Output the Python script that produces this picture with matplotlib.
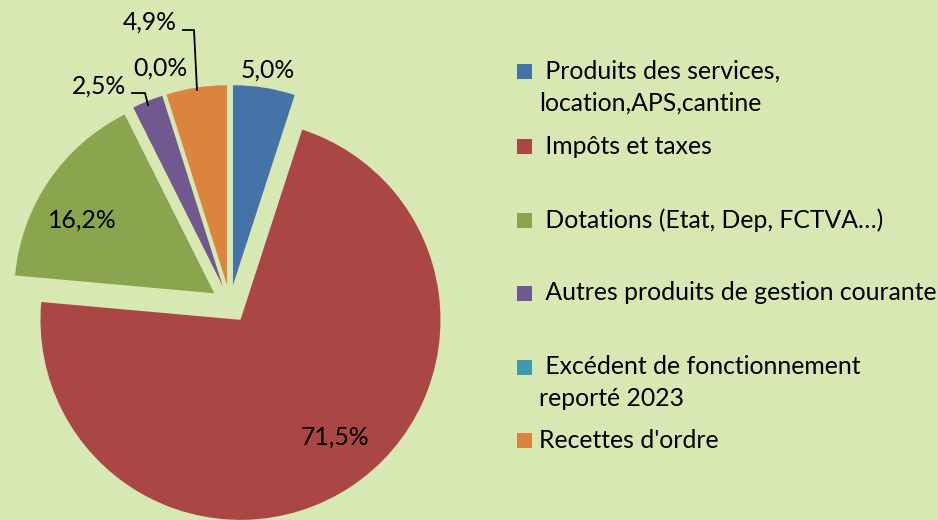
import matplotlib
matplotlib.use("Agg")
import matplotlib.pyplot as plt
from matplotlib.patches import Rectangle

categories = [" Produits des services,\nlocation,APS,cantine", " Impôts et taxes",
              " Dotations (Etat, Dep, FCTVA…)", " Autres produits de gestion courante",
              " Excédent de fonctionnement\nreporté 2023", "Recettes d'ordre"]
values = [5.0, 71.5, 16.2, 2.5, 0.0, 4.9]
labels = ["5,0%", "71,5%", "16,2%", "2,5%", "0,0%", "4,9%"]
colors = ["#4572A7", "#AA4643", "#89A54E", "#71588F", "#4198AF", "#DB843D"]

H = 520
plt.rcParams['font.family'] = ['Lato', 'DejaVu Sans']
fs = 17.8

fig = plt.figure(figsize=(9.38, 5.2), dpi=100)
bg = "#d7e8b2"
fig.patch.set_facecolor(bg)
ax = fig.add_axes([0, 0, 1, 1])
ax.set_facecolor(bg)

# explode is in data units here (pixels)
ax.pie(values, colors=colors, startangle=90, counterclock=False,
       center=(230, H - 304), radius=200, explode=[19] * len(values),
       wedgeprops=dict(linewidth=0))

# data labels (image pixel positions)
label_pos = [(268, 70), (335, 437), (82, 220), (99, 86), (160, 68), (150, 22)]
for lab, (x, y) in zip(labels, label_pos):
    ax.text(x, H - y, lab, fontsize=fs, ha="center", va="center", color="black")

# leader lines
ax.plot([132, 145, 148], [H - 93, H - 93, H - 105], color="black", lw=1.3)
ax.plot([183, 194, 197], [H - 30, H - 30, H - 90], color="black", lw=1.3)

# legend
rows = [71, 146, 220, 293, 367, 440]
for cat, col, y in zip(categories, colors, rows):
    ax.add_patch(Rectangle((517, H - y - 7.5), 15, 15, color=col, lw=0))
    for i, ln in enumerate(cat.split("\n")):
        ax.text(539, H - y - i * 32, ln, fontsize=fs, ha="left", va="center", color="black")

ax.set_xlim(0, 938)
ax.set_ylim(0, H)
ax.set_aspect("equal")
ax.axis("off")

fig.savefig("out.png", dpi=100, facecolor=bg)
